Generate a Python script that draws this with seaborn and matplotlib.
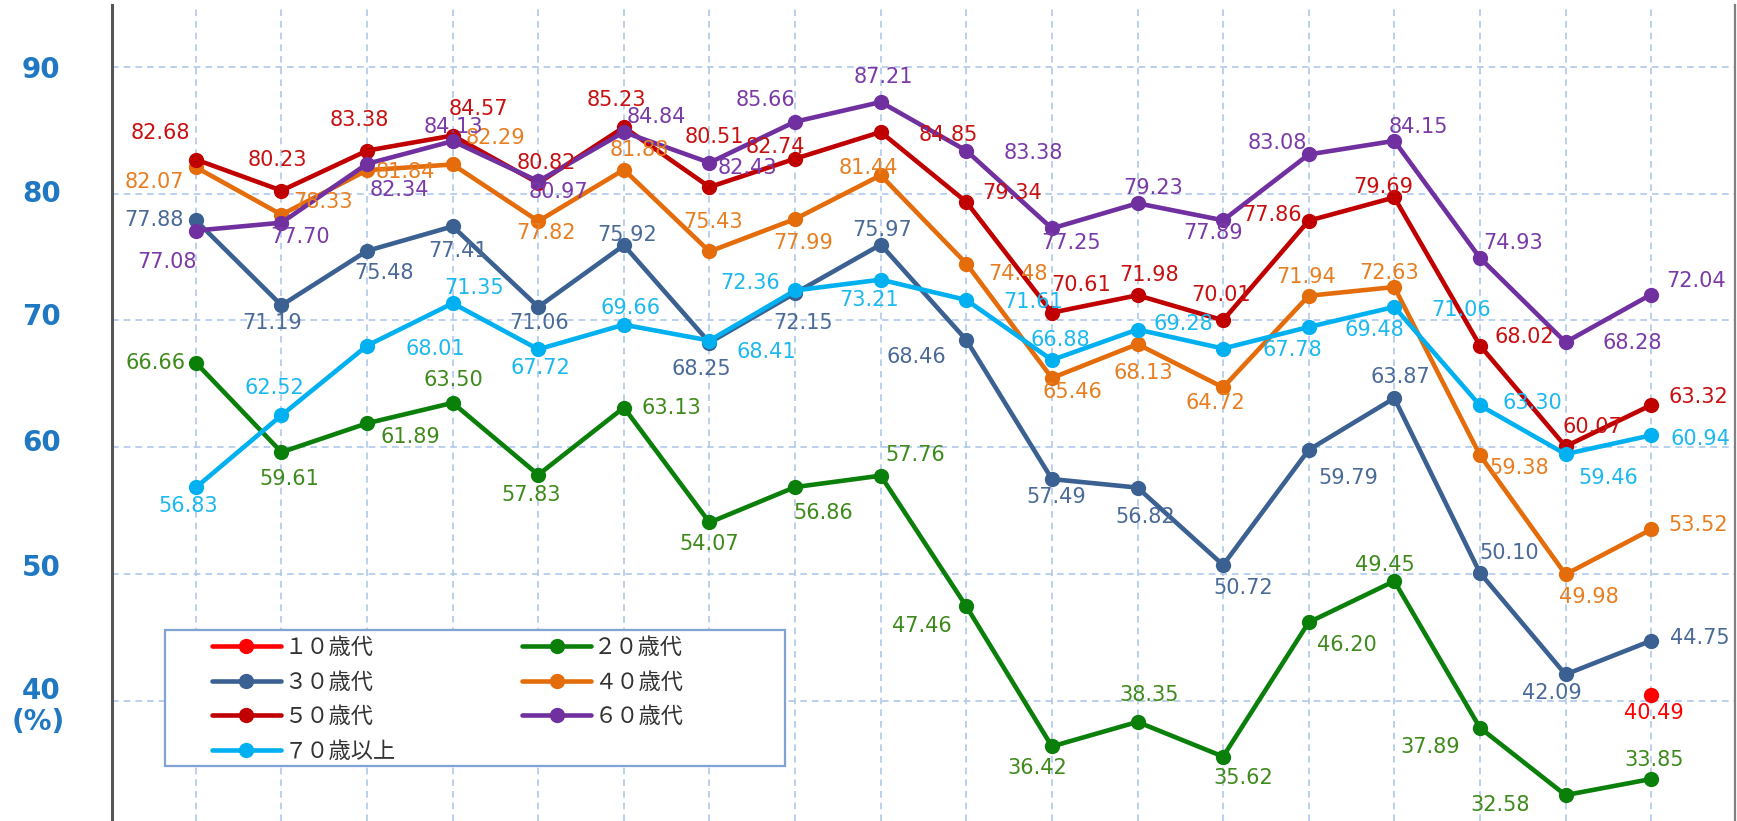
import numpy as np
import pandas as pd
import matplotlib
matplotlib.use("Agg")
import matplotlib.pyplot as plt
import matplotlib.patches as mpatches
from matplotlib.transforms import ScaledTranslation
import seaborn as sns
from matplotlib.lines import Line2D

# ---------------- data ----------------
groups = ["１０歳代", "２０歳代", "３０歳代", "４０歳代", "５０歳代", "６０歳代", "７０歳以上"]
x_index = list(range(18))

v10 = [None] * 17 + [40.49]
v20 = [66.66, 59.61, 61.89, 63.50, 57.83, 63.13, 54.07, 56.86, 57.76, 47.46,
       36.42, 38.35, 35.62, 46.20, 49.45, 37.89, 32.58, 33.85]
v30 = [77.88, 71.19, 75.48, 77.41, 71.06, 75.92, 68.25, 72.15, 75.97, 68.46,
       57.49, 56.82, 50.72, 59.79, 63.87, 50.10, 42.09, 44.75]
v40 = [82.07, 78.33, 81.84, 82.29, 77.82, 81.88, 75.43, 77.99, 81.44, 74.48,
       65.46, 68.13, 64.72, 71.94, 72.63, 59.38, 49.98, 53.52]
v50 = [82.68, 80.23, 83.38, 84.57, 80.82, 85.23, 80.51, 82.74, 84.85, 79.34,
       70.61, 71.98, 70.01, 77.86, 79.69, 68.02, 60.07, 63.32]
v60 = [77.08, 77.70, 82.34, 84.13, 80.97, 84.84, 82.43, 85.66, 87.21, 83.38,
       77.25, 79.23, 77.89, 83.08, 84.15, 74.93, 68.28, 72.04]
v70 = [56.83, 62.52, 68.01, 71.35, 67.72, 69.66, 68.41, 72.36, 73.21, 71.61,
       66.88, 69.28, 67.78, 69.48, 71.06, 63.30, 59.46, 60.94]
series_values = [v10, v20, v30, v40, v50, v60, v70]

y_ticks = [40, 50, 60, 70, 80, 90]
y_unit_label = "(%)"

# ---------------- style ----------------
colors = ["#FF0000", "#0A7F0A", "#3A6192", "#E46C0A", "#C00000", "#7030A0", "#00B0F0"]
label_colors = ["#FF0000", "#3E8A1C", "#4A6A98", "#E87E22", "#C81010", "#7A3AA8", "#1CB8F0"]
palette = dict(zip(groups, colors))

# label offsets in screen pixels (dx right, dy down)
label_offsets = [
    [None] * 17 + [(3, 18)],
    [(-40, 0), (8, 27), (43, 14), (1, -23), (-7, 20), (47, 0), (0, 22), (28, 26), (35, -21),
     (-44, 20), (-15, 22), (12, -27), (20, 21), (38, 23), (-9, -16), (-50, 19), (-65, 10), (3, -19)],
    [(-42, 0), (-9, 18), (17, 22), (5, 25), (1, 16), (3, -10), (-8, 26), (8, 30), (1, -15),
     (-50, 17), (4, 18), (8, 29), (20, 23), (40, 28), (6, -21), (29, -20), (-14, 19), (49, -3)],
    [(-42, 15), (42, -13), (38, 2), (43, -26), (8, 12), (15, -20), (4, -29), (8, 24), (-12, -7),
     (52, 10), (21, 14), (6, 29), (-8, 16), (-3, -19), (-5, -14), (39, 13), (23, 23), (47, -4)],
    [(-36, -27), (-4, -31), (-8, -31), (26, -27), (8, -20), (-8, -27), (5, -50), (-20, -12), (68, 3),
     (46, -9), (29, -28), (12, -20), (-2, -25), (-37, -6), (-11, -10), (44, -9), (27, -19), (47, -8)],
    [(-29, 31), (19, 14), (32, 26), (1, -14), (20, 11), (32, -15), (38, 5), (-30, -22), (3, -25),
     (67, 2), (19, 15), (16, -15), (-10, 13), (-31, -11), (24, -14), (33, -15), (67, 1), (45, -14)],
    [(-8, 19), (-7, -27), (68, 3), (21, -15), (2, 19), (7, -17), (57, 11), (-45, -7), (-12, 20),
     (67, 2), (8, -20), (46, -6), (69, 1), (66, 3), (67, 3), (52, -2), (43, 24), (49, 4)],
]

rows = []
for g, vals in zip(groups, series_values):
    for xi, v in zip(x_index, vals):
        if v is not None:
            rows.append({"idx": xi, "value": v, "group": g})
df = pd.DataFrame(rows)

sns.set_theme(style="white")
plt.rcParams["font.family"] = ["DejaVu Sans", "Noto Sans CJK JP"]

W, H = 1737, 821
fig = plt.figure(figsize=(W / 100, H / 100), dpi=100)
ax = fig.add_axes([112 / W, 0, (1735 - 112) / W, (H - 5) / H])

sns.lineplot(data=df, x="idx", y="value", hue="group", hue_order=groups,
             palette=palette, marker="o", markersize=11, markeredgewidth=0,
             linewidth=3.3, errorbar=None, legend=False, ax=ax)

for gi, vals in enumerate(series_values):
    for xi, v in zip(x_index, vals):
        if v is None:
            continue
        dx, dy = label_offsets[gi][xi]
        ax.annotate(f"{v:.2f}", (xi, v), xytext=(dx, -dy), textcoords="offset pixels",
                    ha="center", va="center", fontsize=15, color=label_colors[gi],
                    annotation_clip=False, zorder=4)

ax.set_xlim(-0.98, 17.98)
ax.set_ylim(30.54, 94.86)
ax.set_xticks(x_index)
ax.set_xticklabels([])
ax.set_yticks(y_ticks)
ax.set_yticklabels([str(t) for t in y_ticks])
ax.tick_params(axis="both", length=0)
ax.tick_params(axis="y", pad=37, labelsize=20, labelcolor="#1F78C1")
tick_shift_px = [13, 9, 7, 6, 3, 0]
for lab, s in zip(ax.get_yticklabels(), tick_shift_px):
    lab.set_fontweight("bold")
    lab.set_transform(lab.get_transform() + ScaledTranslation(0, s / 100, fig.dpi_scale_trans))
ax.set_xlabel("")
ax.set_ylabel("")
ax.grid(True, color="#AFC8EA", linestyle=(0, (4, 3)), linewidth=1.2)
for side in ["top", "bottom"]:
    ax.spines[side].set_visible(False)
ax.spines["left"].set_color("#555555")
ax.spines["left"].set_linewidth(2.2)
ax.spines["right"].set_color("#808080")
ax.spines["right"].set_linewidth(1.6)

fig.text(38 / W, 1 - 722 / H, y_unit_label, ha="center", va="center",
         fontsize=20, fontweight="bold", color="#1F78C1")

# legend box
box = mpatches.Rectangle((165 / W, 1 - 766 / H), 620 / W, 136 / H, transform=fig.transFigure,
                         facecolor="white", edgecolor="#7EA3D4", linewidth=1.6, zorder=3)
fig.add_artist(box)

legend_order = [0, 2, 4, 6, 1, 3, 5]
handles = [Line2D([0], [0], color=colors[i], lw=3.3, marker="o", markersize=11,
                  markeredgewidth=0) for i in legend_order]
leg = fig.legend(handles, [groups[i] for i in legend_order], ncol=2, loc="upper left",
                 bbox_to_anchor=(212 / W, 1 - 636 / H), bbox_transform=fig.transFigure,
                 borderaxespad=0, borderpad=0, frameon=False,
                 prop={"family": ["Noto Sans CJK JP"], "size": 16},
                 handlelength=3.1, handletextpad=0.15, labelspacing=0.52,
                 columnspacing=5.7)
leg.set_zorder(6)
for t in leg.get_texts():
    t.set_color("#333333")

fig.savefig("out.png", dpi=100)
